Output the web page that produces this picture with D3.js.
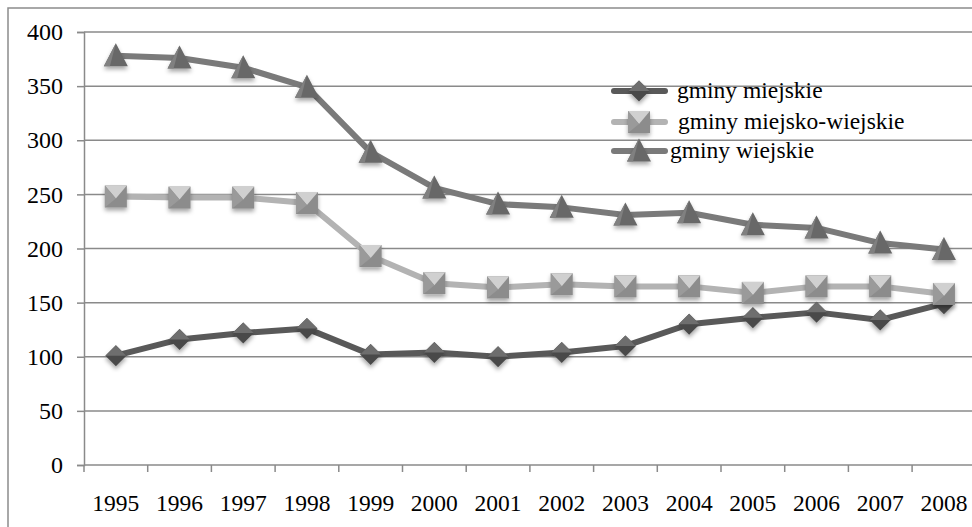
<!DOCTYPE html>
<html>
<head>
<meta charset="utf-8">
<script src="https://cdn.jsdelivr.net/npm/d3@7"></script>
<style>
body { margin: 0; background: #fff; }
svg { display: block; }
text { font-family: "Liberation Serif", "Times New Roman", serif; }
</style>
</head>
<body>
<script>
var w = 972,
	h = 527;

var years = ['1995','1996','1997','1998','1999','2000','2001','2002','2003','2004','2005','2006','2007','2008'];
var miejskie = [101, 116, 122, 126, 102, 104, 100, 104, 110, 130, 136, 141, 134, 149];
var miejskoWiejskie = [248, 247, 247, 242, 193, 168, 164, 167, 165, 165, 159, 165, 165, 158];
var wiejskie = [378, 376, 367, 349, 289, 256, 241, 238, 231, 233, 222, 219, 205, 199];
var seriesNames = ['gminy miejskie', 'gminy miejsko-wiejskie', 'gminy wiejskie'];
var yTicks = [0, 50, 100, 150, 200, 250, 300, 350, 400];

var svg = d3.select('body').append('svg')
	.attr('width', w)
	.attr('height', h);

var defs = svg.append('defs');
var f = defs.append('filter').attr('id', 'shadow')
	.attr('x', '-50%').attr('y', '-50%').attr('width', '200%').attr('height', '200%');
f.append('feDropShadow').attr('dx', 0).attr('dy', 3).attr('stdDeviation', 2)
	.attr('flood-color', '#000').attr('flood-opacity', 0.35);

// outer border (cut off on right and bottom like the reference)
svg.append('rect')
	.attr('x', 8).attr('y', 8)
	.attr('width', 1000).attr('height', 600)
	.attr('fill', 'none').attr('stroke', '#8c8c8c').attr('stroke-width', 1.5);

var x = d3.scaleBand().domain(years).range([84, 84 + 14 * 63.7]);
var y = d3.scaleLinear().domain([0, 400]).range([465, 32]);

// gridlines
svg.append('g').selectAll('line')
	.data(yTicks.slice(1))
	.enter().append('line')
	.attr('x1', 84).attr('x2', w)
	.attr('y1', function(d) { return y(d) }).attr('y2', function(d) { return y(d) })
	.attr('stroke', '#8a8a8a').attr('stroke-width', 1.5);

// y axis
var ya = svg.append('g')
	.attr('transform', 'translate(84,0)')
	.call(d3.axisLeft(y).tickValues(yTicks).tickSize(7).tickPadding(14));
ya.attr('font-family', null).attr('font-size', null);
ya.select('.domain').attr('stroke', '#8a8a8a').attr('stroke-width', 1.5);
ya.selectAll('.tick line').attr('stroke', '#8a8a8a').attr('stroke-width', 1.5);
ya.selectAll('.tick text').style('font-size', '24px').attr('fill', '#000');

// x axis
var xa = svg.append('g')
	.attr('transform', 'translate(0,465)')
	.call(d3.axisBottom(x).tickSize(0).tickPadding(29));
xa.attr('font-family', null).attr('font-size', null);
xa.select('.domain').remove();
xa.append('line').attr('x1', 84).attr('x2', w).attr('stroke', '#8a8a8a').attr('stroke-width', 1.5);
xa.selectAll('.xt')
	.data(years)
	.enter().append('line')
	.attr('class', 'xt')
	.attr('x1', function(d) { return x(d) }).attr('x2', function(d) { return x(d) })
	.attr('y1', 0).attr('y2', 7)
	.attr('stroke', '#8a8a8a').attr('stroke-width', 1.5);
xa.selectAll('.tick text').style('font-size', '23.5px').attr('fill', '#000');

function cx(i) { return x(years[i]) + x.bandwidth() / 2 }

var diamond = 'M0,-10.5L10.5,0L0,10.5L-10.5,0Z';
var square = 'M-11,-11L11,-11L11,11L-11,11Z';
var triangle = 'M0,-12.5L12,10.5L-12,10.5Z';

var series = [
	{ name: seriesNames[0], values: miejskie, line: '#595959', fill: '#4a4a4a', light: '#6e6e6e', shape: diamond },
	{ name: seriesNames[1], values: miejskoWiejskie, line: '#b3b3b3', fill: '#8c8c8c', light: '#d0d0d0', shape: square },
	{ name: seriesNames[2], values: wiejskie, line: '#7a7a7a', fill: '#676767', light: '#808080', shape: triangle }
];

var line = d3.line()
	.x(function(d, i) { return cx(i) })
	.y(function(d) { return y(d) });

function drawMarker(g, s) {
	g.append('path').attr('d', s.shape).attr('fill', s.fill).attr('filter', 'url(#shadow)');
	if (s.shape == square) {
		// bevelled top face
		g.append('path').attr('d', 'M-11,-11L11,-11L0,2Z').attr('fill', s.light);
		g.append('path').attr('d', 'M-11,-11L0,2L-11,11Z').attr('fill', '#9a9a9a');
	} else if (s.shape == diamond) {
		g.append('path').attr('d', 'M0,-10.5L10.5,0L-10.5,0Z').attr('fill', s.light);
	} else {
		g.append('path').attr('d', 'M0,-12.5L-12,10.5L-6,10.5Z').attr('fill', s.light);
	}
}

series.forEach(function(s) {
	svg.append('path')
		.datum(s.values)
		.attr('d', line)
		.attr('fill', 'none')
		.attr('stroke', s.line)
		.attr('stroke-width', 6)
		.attr('stroke-linejoin', 'round');
	svg.append('g').selectAll('g')
		.data(s.values)
		.enter().append('g')
		.attr('transform', function(d, i) { return 'translate(' + cx(i) + ',' + y(d) + ')' })
		.each(function() { drawMarker(d3.select(this), s) });
});

// legend
var legendY = [91, 122, 151];
var legendX = [677, 678, 670];
series.forEach(function(s, i) {
	var lg = svg.append('g').attr('transform', 'translate(0,' + legendY[i] + ')');
	lg.append('line').attr('x1', 614).attr('x2', 665)
		.attr('stroke', s.line).attr('stroke-width', 6).attr('stroke-linecap', 'round');
	var m = lg.append('g').attr('transform', 'translate(639,0)');
	drawMarker(m, s);
	lg.append('text').attr('x', legendX[i]).attr('y', 7)
		.style('font-size', '23.5px').attr('fill', '#000')
		.text(s.name);
});
</script>
</body>
</html>
